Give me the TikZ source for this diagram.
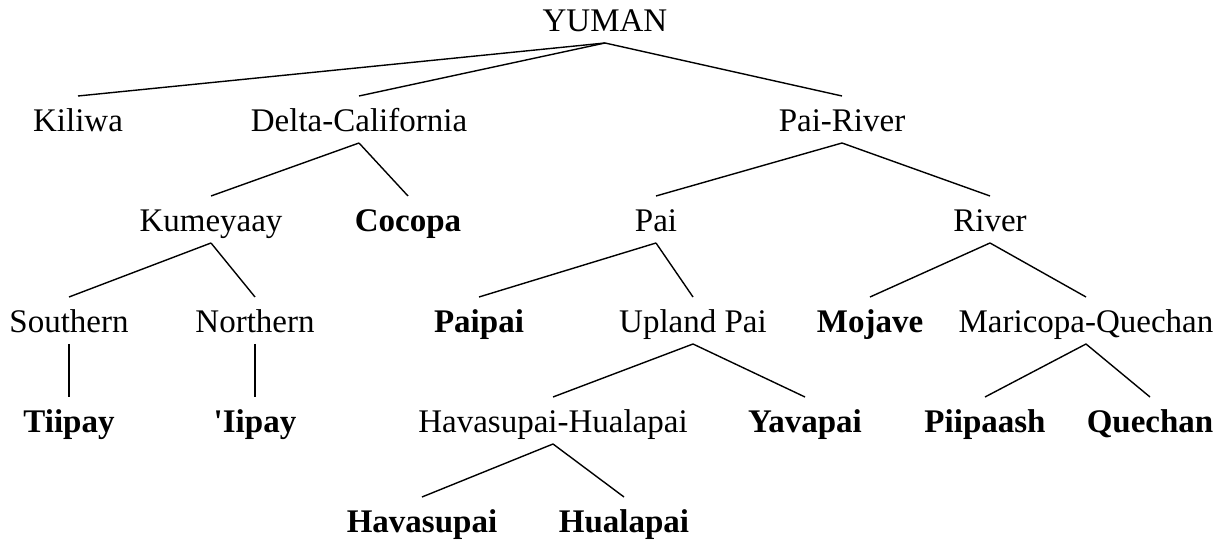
\documentclass[tikz,border=0pt]{standalone}
\usepackage{fontspec}
\setmainfont{Liberation Serif}
\usepackage{tikz}

\begin{document}
\begin{tikzpicture}[x=0.5pt,y=-0.5pt,
  lang/.style={anchor=base,inner sep=0pt,outer sep=0pt,text height=18pt,text depth=5.5pt,font=\fontsize{16.5}{20}\selectfont},
  leaf/.style={lang,font=\fontsize{16.5}{20}\selectfont\bfseries},
  branch/.style={line width=0.7pt}]
  \useasboundingbox (0,0) rectangle (1226,544);
  % groups
  \node[lang] (yuman) at (605,32) {YUMAN};
  \node[lang] (kiliwa) at (78,132) {Kiliwa};
  \node[lang] (delta) at (359,132) {Delta-California};
  \node[lang] (pairiver) at (842,132) {Pai-River};
  \node[lang] (kumeyaay) at (211,232) {Kumeyaay};
  \node[leaf] (cocopa) at (408,232) {Cocopa};
  \node[lang] (pai) at (656,232) {Pai};
  \node[lang] (river) at (990,232) {River};
  \node[lang] (southern) at (69,333) {Southern};
  \node[lang] (northern) at (255,333) {Northern};
  \node[leaf] (paipai) at (479,333) {Paipai};
  \node[lang] (upland) at (693,333) {Upland Pai};
  \node[leaf] (mojave) at (870,333) {Mojave};
  \node[lang] (marq) at (1086,333) {Maricopa-Quechan};
  \node[leaf] (tiipay) at (69,433) {Tiipay};
  \node[leaf] (iipay) at (255,433) {\textquotesingle Iipay};
  \node[lang] (havhual) at (553,433) {Havasupai-Hualapai};
  \node[leaf] (yavapai) at (805,433) {Yavapai};
  \node[leaf] (piipaash) at (985,433) {Piipaash};
  \node[leaf] (quechan) at (1150,433) {Quechan};
  \node[leaf] (havasupai) at (422,533) {Havasupai};
  \node[leaf] (hualapai) at (624,533) {Hualapai};
  % branches
  \draw[branch] (yuman.south) -- (kiliwa.north);
  \draw[branch] (yuman.south) -- (delta.north);
  \draw[branch] (yuman.south) -- (pairiver.north);
  \draw[branch] (delta.south) -- (kumeyaay.north);
  \draw[branch] (delta.south) -- (cocopa.north);
  \draw[branch] (pairiver.south) -- (pai.north);
  \draw[branch] (pairiver.south) -- (river.north);
  \draw[branch] (kumeyaay.south) -- (southern.north);
  \draw[branch] (kumeyaay.south) -- (northern.north);
  \draw[branch] (pai.south) -- (paipai.north);
  \draw[branch] (pai.south) -- (upland.north);
  \draw[branch] (river.south) -- (mojave.north);
  \draw[branch] (river.south) -- (marq.north);
  \draw[branch] (southern.south) -- (tiipay.north);
  \draw[branch] (northern.south) -- (iipay.north);
  \draw[branch] (upland.south) -- (havhual.north);
  \draw[branch] (upland.south) -- (yavapai.north);
  \draw[branch] (marq.south) -- (piipaash.north);
  \draw[branch] (marq.south) -- (quechan.north);
  \draw[branch] (havhual.south) -- (havasupai.north);
  \draw[branch] (havhual.south) -- (hualapai.north);
\end{tikzpicture}
\end{document}
